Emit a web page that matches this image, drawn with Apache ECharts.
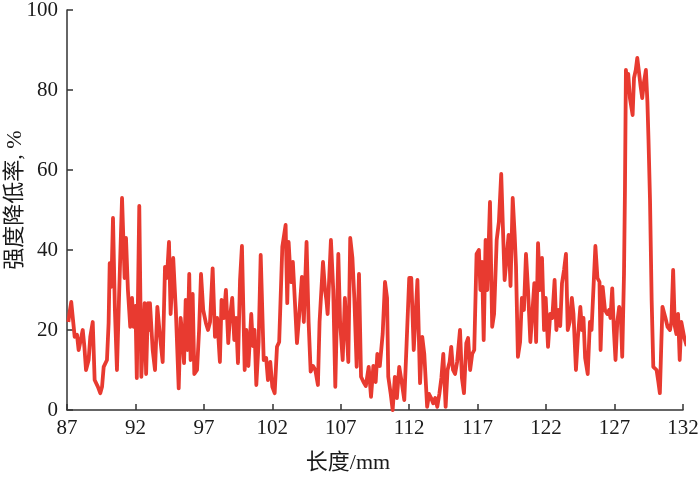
<!DOCTYPE html>
<html>
<head>
<meta charset="utf-8">
<script src="https://cdn.jsdelivr.net/npm/echarts@6/dist/echarts.min.js"></script>
<style>
  html, body { margin: 0; padding: 0; background: #fff; }
  #chart { width: 700px; height: 477px; }
</style>
</head>
<body>
<div id="chart"></div>
<script>
// 长度 (mm)
var lengthMm = [
  87.1, 87.17, 87.31, 87.44, 87.56, 87.73, 87.85, 87.97, 88.15, 88.27, 88.39, 88.58, 88.7, 88.88,
  89.02, 89.26, 89.43, 89.56, 89.68, 89.92, 90.04, 90.12, 90.24, 90.36, 90.5, 90.65, 90.8,
  91.02, 91.21, 91.31, 91.45, 91.62, 91.75, 91.87, 92.0, 92.1, 92.28, 92.43, 92.67, 92.78, 92.92,
  93.0, 93.06, 93.26, 93.43, 93.6, 93.75, 93.99, 94.16, 94.3, 94.45, 94.57, 94.76, 94.95,
  95.16, 95.3, 95.42, 95.55, 95.67, 95.8, 95.93, 96.03, 96.18, 96.3, 96.5, 96.65, 96.79, 96.95,
  97.15, 97.3, 97.45, 97.64, 97.81, 97.97, 98.17, 98.29, 98.45, 98.61, 98.78, 98.9,
  99.07, 99.22, 99.35, 99.49, 99.64, 99.78, 99.98, 100.1, 100.25, 100.46, 100.58, 100.7, 100.83,
  101.0, 101.15, 101.37, 101.55, 101.68, 101.85, 102.0, 102.17, 102.34, 102.5, 102.73, 102.97,
  103.09, 103.19, 103.35, 103.5, 103.65, 103.8, 103.97, 104.16, 104.3, 104.5, 104.65, 104.8, 104.97,
  105.14, 105.33, 105.45, 105.7, 105.85, 105.95, 106.04, 106.28, 106.45, 106.6, 106.82, 106.95,
  107.14, 107.3, 107.43, 107.55, 107.69, 107.85, 107.99, 108.16, 108.33, 108.48, 108.66, 108.83,
  109.04, 109.21, 109.38, 109.55, 109.67, 109.85, 110.06, 110.23, 110.38, 110.47, 110.65, 110.79, 110.95,
  111.1, 111.27, 111.45, 111.64, 111.81, 112.0, 112.15, 112.33, 112.6, 112.79, 112.95,
  113.1, 113.31, 113.45, 113.6, 113.75, 113.9, 114.05, 114.2, 114.35, 114.49, 114.66, 114.8, 114.95,
  115.07, 115.2, 115.35, 115.5, 115.71, 115.85, 116.0, 116.17, 116.3, 116.45, 116.6, 116.75, 116.92,
  117.09, 117.2, 117.32, 117.44, 117.58, 117.7, 117.9, 118.06, 118.2, 118.39, 118.55, 118.72, 118.85, 118.97,
  119.1, 119.26, 119.4, 119.56, 119.7, 119.8, 119.94, 120.1, 120.23, 120.38, 120.53, 120.68, 120.85, 120.97,
  121.14, 121.27, 121.41, 121.55, 121.7, 121.85, 121.97, 122.14, 122.3, 122.45, 122.62, 122.75, 122.88,
  123.03, 123.16, 123.31, 123.45, 123.58, 123.72, 123.88, 124.0, 124.18, 124.32, 124.5, 124.62, 124.73, 124.85,
  125.04, 125.2, 125.32, 125.6, 125.75, 125.9, 125.98, 126.13, 126.3, 126.47, 126.6, 126.7, 126.83, 126.95,
  127.07, 127.2, 127.34, 127.45, 127.56, 127.69, 127.76, 127.83, 127.95, 128.0, 128.12, 128.32, 128.42, 128.55, 128.66, 128.8, 128.9,
  129.02, 129.15, 129.29, 129.4, 129.48, 129.59, 129.71, 129.83, 129.95, 130.07, 130.2, 130.31, 130.42, 130.5, 130.6, 130.72, 130.87,
  131.05, 131.15, 131.28, 131.4, 131.52, 131.64, 131.76, 131.88, 132.0, 132.1, 132.27
];
// 强度降低率 (%)
var lossRate = [
  22, 24, 27, 22.5, 18.3, 18.8, 15, 17, 20, 15.8, 10, 12.5, 18.3, 22,
  7.5, 5.8, 4.2, 5.8, 10.8, 12.5, 21.7, 36.7, 30.8, 48, 25, 10, 28,
  53, 33, 43, 30, 20.8, 28, 20.8, 26, 8, 51, 8.3, 26.7, 9, 26.7,
  20, 26.7, 15, 10, 25.8, 20, 12, 35.8, 33, 42, 24, 38, 25,
  5.4, 23, 19, 11.7, 27.5, 15, 34, 12.5, 29, 9, 10, 20, 34, 25,
  21.7, 20, 22, 35.4, 18.3, 23, 12, 27.5, 23, 30, 16.7, 23,
  28, 17.5, 23, 11.7, 32.5, 41, 10, 20, 11, 24, 16, 20, 6.25,
  17, 38.75, 12.5, 13, 7.5, 12, 5.8, 4.2, 15.8, 17, 40.8, 46.25,
  26.7, 42, 32, 37, 27, 16.7, 24, 33.3, 22, 42, 22, 9.6, 11,
  10, 6.25, 22, 37, 30, 27.5, 24, 42.5, 30, 5.8, 39, 22,
  12.5, 28, 20, 12, 43, 38, 28, 10.8, 34, 8.3, 7, 6,
  10.8, 3.3, 11, 7, 14, 11, 19, 32, 28, 8.3, 4, 0, 8.3,
  3, 10.8, 7, 2.5, 16.7, 33, 33, 15, 32.5, 6.7, 18.3,
  14, 0.8, 4, 3, 1.7, 3, 0.8, 4, 8, 14, 0.8, 10, 12,
  15.8, 10, 9, 12, 20, 8, 4.2, 16.7, 18, 10, 14, 15, 39,
  40, 30, 37, 17.5, 42.5, 30, 52, 20.8, 24, 42.5, 47, 59, 45, 32.5,
  32, 43.75, 31, 53, 44, 36, 13.3, 17, 28, 25, 39, 30, 17, 17.5,
  31.7, 17, 41.7, 30, 38, 20, 28, 15.8, 24, 23, 32.5, 20, 25,
  21, 31.7, 35, 39, 20, 22, 28, 24, 10, 18, 25.8, 20, 23, 13,
  9, 22, 20, 41, 33, 32, 15, 30.8, 25, 24, 25, 23, 30.4, 20,
  12.5, 22, 25.8, 24, 13.3, 34, 55, 85, 80, 84, 78, 73.75, 83, 85, 88, 84, 81,
  78, 82, 85, 77, 67.5, 52.5, 27.5, 10.8, 11, 10, 7, 4.2, 17, 25.8, 26, 23, 20.8,
  20, 22, 35, 21, 19, 24, 12.5, 22, 22.3, 18, 16
];
var xTicks = [87, 132, 5];
var yTicks = [0, 100, 20];

var chart = echarts.init(document.getElementById('chart'));
var axisFont = 'Liberation Serif, Times New Roman, serif';
var nameFont = 'Liberation Serif, Noto Sans CJK SC, serif';

chart.setOption({
  animation: false,
  backgroundColor: '#ffffff',
  grid: {
    left: 67,
    right: 17,
    top: 10,
    bottom: 67,
    outerBoundsMode: 'none'
  },
  xAxis: {
    type: 'value',
    min: xTicks[0],
    max: xTicks[1],
    interval: xTicks[2],
    name: '长度/mm',
    nameLocation: 'middle',
    nameGap: 42,
    nameMoveOverlap: false,
    nameTextStyle: { fontFamily: nameFont, fontSize: 22, color: '#1a1a1a', padding: [0, 54, 0, 0] },
    axisLine: { onZero: false, lineStyle: { color: '#333', width: 1.5 } },
    axisTick: { inside: true, length: 6, lineStyle: { color: '#333', width: 1.5 } },
    axisLabel: { fontFamily: axisFont, fontSize: 21, color: '#1a1a1a', margin: 8 },
    splitLine: { show: false }
  },
  yAxis: {
    type: 'value',
    min: yTicks[0],
    max: yTicks[1],
    interval: yTicks[2],
    name: '强度降低率, %',
    nameLocation: 'middle',
    nameGap: 41,
    nameMoveOverlap: false,
    nameTextStyle: { fontFamily: nameFont, fontSize: 22, color: '#1a1a1a', padding: [0, 0, 0, 20] },
    axisLine: { show: true, lineStyle: { color: '#333', width: 1.5 } },
    axisTick: { show: true, inside: true, length: 6, lineStyle: { color: '#333', width: 1.5 } },
    axisLabel: { fontFamily: axisFont, fontSize: 21, color: '#1a1a1a', margin: 9 },
    splitLine: { show: false }
  },
  series: [{
    type: 'line',
    clip: false,
    showSymbol: false,
    symbol: 'none',
    lineStyle: { color: '#e83a30', width: 3.8, join: 'round' },
    data: lengthMm.map(function (x, i) { return [x, lossRate[i]]; })
  }]
});
</script>
</body>
</html>
